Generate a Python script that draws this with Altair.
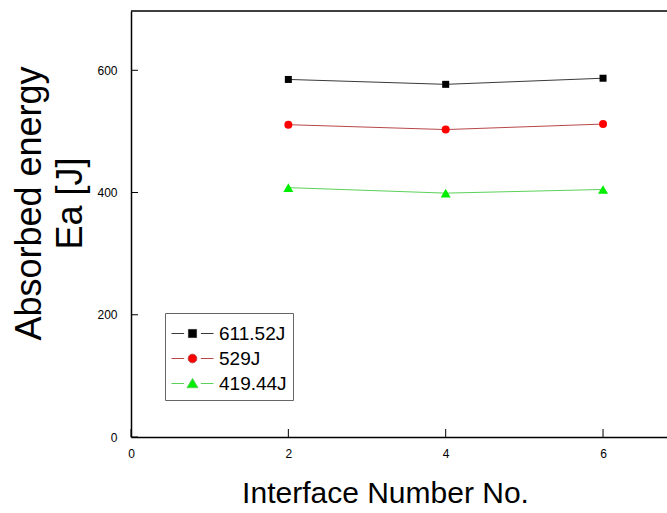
import altair as alt
import pandas as pd

# ---- data ----
interfaces = [2, 4, 6]
series_names = ["611.52J", "529J", "419.44J"]
energy_611 = [585, 577, 587]
energy_529 = [511, 503, 512]
energy_419 = [408, 399, 405]
x_ticks = [0, 2, 4, 6]
y_ticks = [0, 200, 400, 600]

marker_colors = ["#000000", "#ff0000", "#00ee00"]
line_colors = ["#3a3a3a", "#b84848", "#5ad25a"]
marker_shapes = ["square", "circle", "triangle-up"]
marker_sizes = [49, 64, 100]
legend_paths = [
    "M-1.5,0H-0.6M0.6,0H1.5M-0.29,-0.29H0.29V0.29H-0.29Z",
    "M-1.5,0H-0.6M0.6,0H1.5M0.31,0A0.31,0.31,0,1,1,-0.31,0A0.31,0.31,0,1,1,0.31,0Z",
    "M-1.5,0H-0.6M0.6,0H1.5M0,-0.36L0.39,0.3H-0.39Z",
]

rows = []
for name, vals in zip(series_names, [energy_611, energy_529, energy_419]):
    for xv, yv in zip(interfaces, vals):
        rows.append({"series": name, "x": xv, "y": yv})
df = pd.DataFrame(rows)

W, H = 536, 426
FONT = "Liberation Sans"

xscale = alt.Scale(domain=[0, 6.813], nice=False, zero=False)
yscale = alt.Scale(domain=[0, 697], nice=False, zero=False)

xaxis = alt.Axis(
    values=x_ticks, format="d", ticks=False, tickSize=0, grid=False,
    domainColor="black", domainWidth=1.5,
    labelFont=FONT, labelFontSize=12, labelColor="black", labelPadding=11,
    labelFlush=False,
    title="Interface Number No.", titleFont=FONT, titleFontSize=30,
    titleFontWeight="normal", titleColor="black",
    titleX=254, titleY=65, titleAlign="center", titleBaseline="alphabetic",
)
yaxis = alt.Axis(
    values=y_ticks, format="d", ticks=False, tickSize=0, grid=False,
    domainColor="black", domainWidth=1.5,
    labelFont=FONT, labelFontSize=12, labelColor="black", labelPadding=14,
    labelFlush=False,
    title=["Absorbed energy", "Ea [J]"], titleFont=FONT, titleFontSize=36,
    titleFontWeight="normal", titleColor="black", titleLineHeight=41,
    titleAngle=270, titleX=-91, titleY=192, titleAlign="center",
    titleBaseline="alphabetic",
)


def X(field):
    return alt.X(field, scale=xscale, axis=xaxis)


def Y(field):
    return alt.Y(field, scale=yscale, axis=yaxis)


layers = []
for i, name in enumerate(series_names):
    layers.append(
        alt.Chart(df).transform_filter(alt.datum.series == name)
        .mark_line(color=line_colors[i], strokeWidth=1)
        .encode(x=X("x:Q"), y=Y("y:Q"))
    )
for i, name in enumerate(series_names):
    layers.append(
        alt.Chart(df).transform_filter(alt.datum.series == name)
        .mark_point(shape=marker_shapes[i], filled=True, size=marker_sizes[i],
                    color=marker_colors[i], opacity=1)
        .encode(x=X("x:Q"), y=Y("y:Q"))
    )

# inward tick marks
ytick_df = pd.DataFrame({"t": y_ticks})
xtick_df = pd.DataFrame({"t": x_ticks})
layers.append(
    alt.Chart(ytick_df).mark_rule(color="black", strokeWidth=1)
    .encode(y=Y("t:Q"), x=alt.value(0), x2=alt.value(7))
)
layers.append(
    alt.Chart(xtick_df).mark_rule(color="black", strokeWidth=1)
    .encode(x=X("t:Q"), y=alt.value(H), y2=alt.value(H - 8))
)
# top frame line
layers.append(
    alt.Chart(pd.DataFrame({"a": [0]})).mark_rule(color="black", strokeWidth=1.5)
    .encode(x=alt.value(0), x2=alt.value(W), y=alt.value(0))
)

# legend-only layer
legend = alt.Legend(
    orient="none", legendX=34, legendY=302, title=None,
    strokeColor="#666666", fillColor="white", padding=6,
    labelFont=FONT, labelFontSize=19, labelColor="black", labelOffset=12,
    labelLimit=300, rowPadding=0, symbolSize=784, symbolStrokeWidth=1,
    symbolOffset=7, symbolOpacity=1,
)
layers.append(
    alt.Chart(df).transform_filter("false")
    .mark_point(filled=True, strokeWidth=1, opacity=1)
    .encode(
        x=X("x:Q"), y=Y("y:Q"),
        fill=alt.Fill("series:N", scale=alt.Scale(domain=series_names, range=marker_colors), legend=legend),
        stroke=alt.Stroke("series:N", scale=alt.Scale(domain=series_names, range=line_colors), legend=legend),
        shape=alt.Shape("series:N", scale=alt.Scale(domain=series_names, range=legend_paths), legend=legend),
    )
)

chart = alt.layer(*layers).properties(
    width=W, height=H,
    padding={"left": 131, "top": 11, "right": 0, "bottom": 76},
    autosize=alt.AutoSizeParams(type="none"),
    background="white",
).configure_view(stroke=None)

chart.save("out.html", embed_options={"renderer": "svg", "actions": False})
